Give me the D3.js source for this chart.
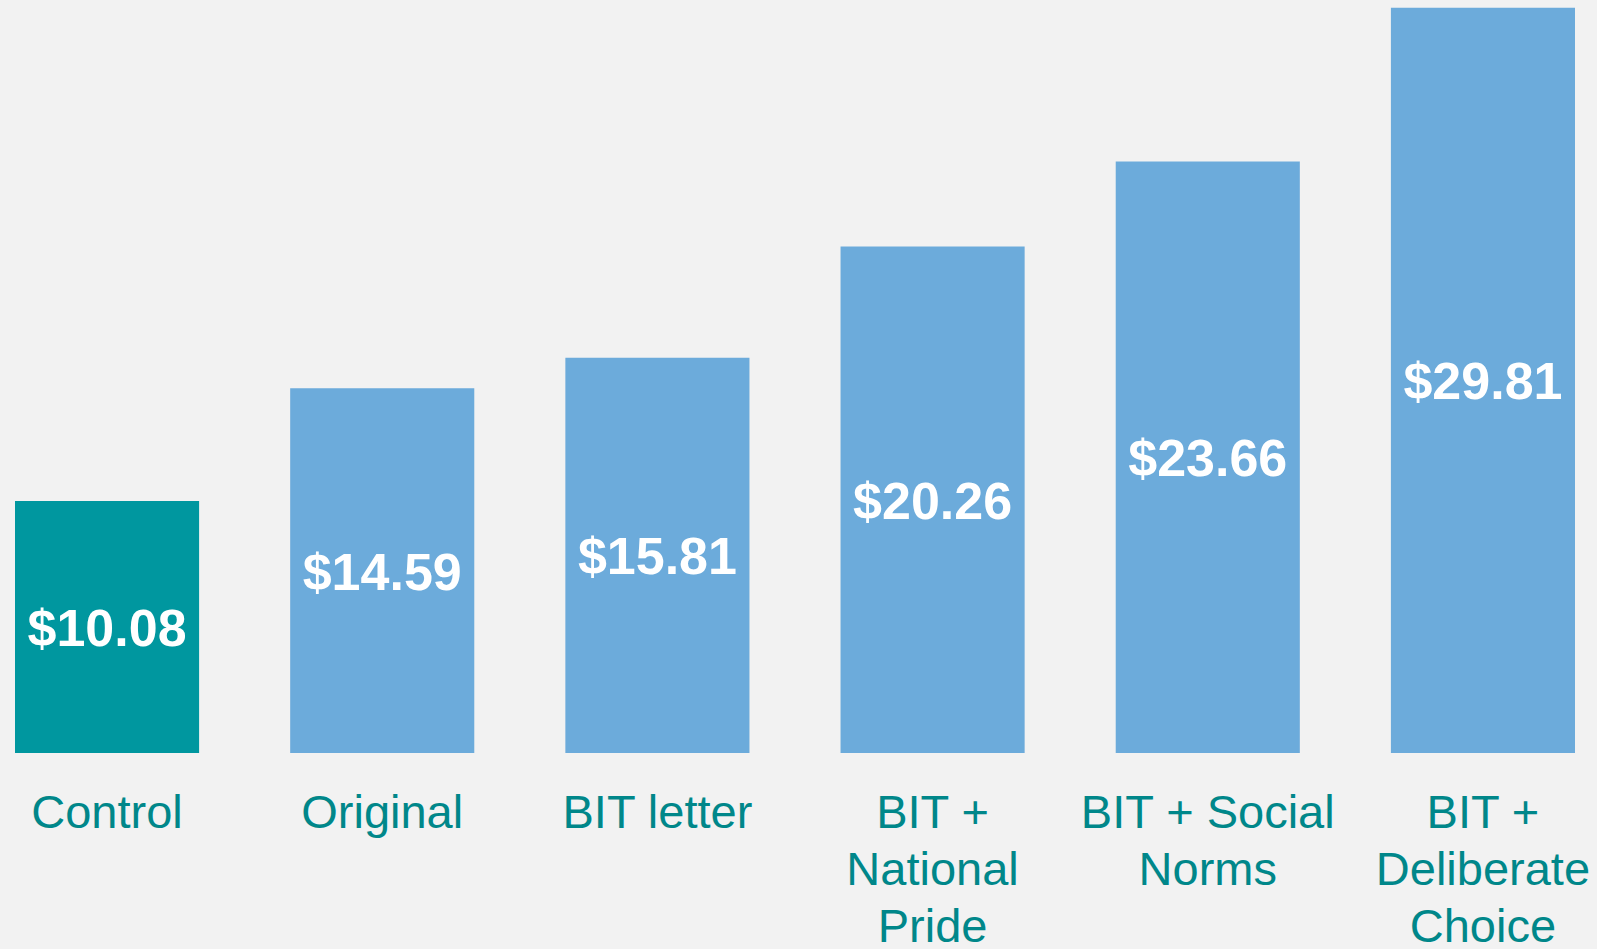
<!DOCTYPE html>
<html>
<head>
<meta charset="utf-8">
<script src="https://cdn.jsdelivr.net/npm/d3@7"></script>
<style>
  html, body { margin: 0; padding: 0; background: #f2f2f2; }
  svg { display: block; }
</style>
</head>
<body>
<div id="chart"></div>
<script>
// bar chart: average payment per letter variant
const categories = ['Control', 'Original', 'BIT letter', 'BIT + National Pride', 'BIT + Social Norms', 'BIT + Deliberate Choice'];
const values = [10.08, 14.59, 15.81, 20.26, 23.66, 29.81];
const labelLines = [
  ['Control'],
  ['Original'],
  ['BIT letter'],
  ['BIT +', 'National', 'Pride'],
  ['BIT + Social', 'Norms'],
  ['BIT +', 'Deliberate', 'Choice']
];
const barColors = ['#00979f', '#6cabdb', '#6cabdb', '#6cabdb', '#6cabdb', '#6cabdb'];

const width = 1597, height = 949;
const font = 'Arial, "Liberation Sans", sans-serif';

const svg = d3.select('#chart').append('svg')
  .attr('width', width)
  .attr('height', height);

svg.append('rect')
  .attr('width', width)
  .attr('height', height)
  .attr('fill', '#f2f2f2');

const x = d3.scaleBand()
  .domain(categories)
  .range([15, 1575])
  .paddingInner(0.331)
  .paddingOuter(0);

const y = d3.scaleLinear()
  .domain([0, 30])
  .range([753, 3]);

const bars = svg.selectAll('g.bar')
  .data(categories)
  .join('g')
  .attr('class', 'bar');

bars.append('rect')
  .attr('x', d => x(d))
  .attr('y', (d, i) => y(values[i]))
  .attr('width', x.bandwidth())
  .attr('height', (d, i) => y(0) - y(values[i]))
  .attr('fill', (d, i) => barColors[i]);

// value labels, centred in each bar
bars.append('text')
  .attr('x', d => x(d) + x.bandwidth() / 2)
  .attr('y', (d, i) => (y(values[i]) + y(0)) / 2 + 19)
  .attr('text-anchor', 'middle')
  .style('font-family', font)
  .style('font-weight', 'bold')
  .style('font-size', '52px')
  .attr('fill', '#ffffff')
  .text((d, i) => '$' + values[i].toFixed(2));

// category labels, wrapped
bars.append('text')
  .attr('text-anchor', 'middle')
  .style('font-family', font)
  .style('font-size', '47px')
  .attr('fill', '#00878a')
  .each(function(d, i) {
    const t = d3.select(this);
    labelLines[i].forEach((line, k) => {
      t.append('tspan')
        .attr('x', x(d) + x.bandwidth() / 2)
        .attr('y', 828 + k * 57)
        .text(line);
    });
  });
</script>
</body>
</html>
